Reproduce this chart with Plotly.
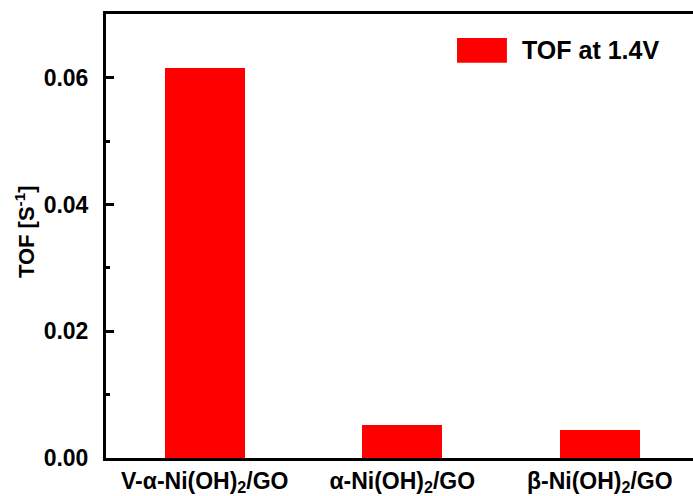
import plotly.graph_objects as go

# TOF values at 1.4 V for each catalyst
catalysts = ["V-α-Ni(OH)<sub>2</sub>/GO", "α-Ni(OH)<sub>2</sub>/GO", "β-Ni(OH)<sub>2</sub>/GO"]
tof_values = [0.0616, 0.0052, 0.0044]
series_name = "TOF at 1.4V"
y_title = "TOF [S<sup>-1</sup>]"
y_major_ticks = [0.00, 0.02, 0.04, 0.06]
y_minor_ticks = [0.01, 0.03, 0.05]
y_range = [0, 0.0701]

FONT = "Liberation Sans, Arial, sans-serif"
RED = "#ff0000"

fig = go.Figure()
fig.add_trace(go.Bar(
    x=list(range(len(catalysts))),
    y=tof_values,
    name=series_name,
    width=0.405,
    marker=dict(color=RED, line=dict(width=0)),
    showlegend=False,
))

fig.update_layout(
    width=693, height=496,
    margin=dict(l=106, r=0, t=14, b=38),
    paper_bgcolor="white", plot_bgcolor="white",
    font=dict(family=FONT, size=23, color="black", weight="bold"),
    bargap=0,
    xaxis=dict(
        tickmode="array",
        tickvals=list(range(len(catalysts))),
        ticktext=catalysts,
        range=[-0.5, 2.472],
        showline=True, linecolor="black", linewidth=3, mirror=True,
        showgrid=False, zeroline=False, ticks="",
        tickfont=dict(family=FONT, size=23, color="black", weight="bold"),
    ),
    yaxis=dict(
        range=y_range,
        tickmode="array", tickvals=y_major_ticks, tickformat=".2f",
        showline=True, linecolor="black", linewidth=3, mirror=False,
        showgrid=False, zeroline=False,
        ticks="inside", ticklen=8, tickwidth=3, tickcolor="black",
        ticklabelstandoff=10,
        tickfont=dict(family=FONT, size=23, color="black", weight="bold"),
    ),
    # overlay axis carrying the short minor ticks
    yaxis2=dict(
        overlaying="y", side="left", range=y_range,
        tickmode="array", tickvals=y_minor_ticks, showticklabels=False,
        ticks="inside", ticklen=4, tickwidth=3, tickcolor="black",
        showline=False, showgrid=False, zeroline=False,
    ),
)

# invisible trace so the overlay axis is drawn
fig.add_trace(go.Scatter(x=[0], y=[0], yaxis="y2", mode="markers",
                         marker=dict(opacity=0), showlegend=False, hoverinfo="skip"))

# y-axis title
fig.add_annotation(xref="paper", yref="paper", x=-0.138, y=0.511,
                   xanchor="center", yanchor="middle", textangle=-90,
                   showarrow=False, text=y_title,
                   font=dict(family=FONT, size=22, color="black", weight="bold"))

# Legend key drawn as a wide swatch with its label
fig.add_shape(type="rect", xref="paper", yref="paper",
              x0=0.598, x1=0.683, y0=0.890, y1=0.946,
              fillcolor=RED, line=dict(width=0))
fig.add_annotation(xref="paper", yref="paper", x=0.705, y=0.919,
                   xanchor="left", yanchor="middle", showarrow=False,
                   text=series_name,
                   font=dict(family=FONT, size=25, color="black", weight="bold"))

fig.write_html("out.html")
